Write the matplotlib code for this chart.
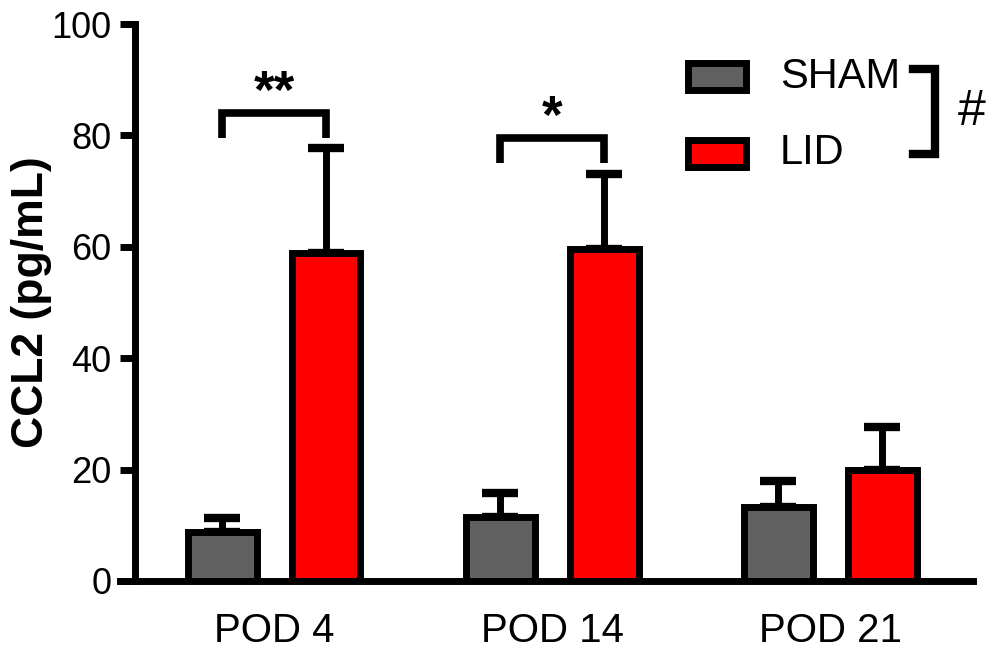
import numpy as np
import matplotlib
matplotlib.use("Agg")
import matplotlib.pyplot as plt
from matplotlib.patches import Rectangle

plt.rcParams['font.family'] = ['Liberation Sans', 'DejaVu Sans']

# data
days = ['POD 4', 'POD 14', 'POD 21']
sham_mean = [8.8, 11.5, 13.3]
sham_err = [2.5, 4.3, 4.7]
lid_mean = [58.9, 59.6, 19.9]
lid_err = [18.8, 13.5, 7.7]
sham_color = '#606060'
lid_color = '#ff0000'

# significance marks: (group index, bracket height, leg bottom, label)
sig_marks = [(0, 84.0, 79.5, '**'), (1, 79.5, 75.0, '*')]

x = np.arange(len(days))
offset = 0.187
width = 0.248

fig = plt.figure(figsize=(10, 6.49), dpi=100)
ax = fig.add_axes([0.120, 1 - 581 / 649, 0.853, (581 - 24) / 649])

ax.bar(x - offset, sham_mean, width, color=sham_color, edgecolor='black', linewidth=5, zorder=3)
ax.bar(x + offset, lid_mean, width, color=lid_color, edgecolor='black', linewidth=5, zorder=3)

for xs, m, e in [(x - offset, sham_mean, sham_err), (x + offset, lid_mean, lid_err)]:
    ax.errorbar(xs, m, yerr=[np.zeros(len(e)), e], fmt='none', ecolor='black',
                elinewidth=5, capsize=13, capthick=6, zorder=2)

ax.set_xlim(-0.554, 2.514)
ax.set_ylim(0, 100)
ax.set_yticks([0, 20, 40, 60, 80, 100])
ax.set_xticks(x)
ax.set_xticklabels(days, fontsize=29)
ax.tick_params(axis='x', length=0, pad=22)
ax.tick_params(axis='y', length=11, width=5, labelsize=26, pad=6)

ax.spines['top'].set_visible(False)
ax.spines['right'].set_visible(False)
ax.spines['left'].set_position(('data', -0.50))
ax.spines['left'].set_linewidth(5)
ax.spines['bottom'].set_linewidth(5)
ax.spines['left'].set_capstyle('projecting')

ax.set_ylabel('CCL2 (pg/mL)', fontsize=32, fontweight='bold')
ax.yaxis.set_label_coords(-0.080, 0.5)

# significance brackets
for gi, ytop, ybot, label in sig_marks:
    x1, x2 = gi - offset, gi + offset
    ax.plot([x1, x1, x2, x2], [ybot, ytop, ytop, ybot], color='black', lw=5.5,
            solid_joinstyle='miter', solid_capstyle='butt', clip_on=False, zorder=4)
    ax.text(gi, ytop - 1.0, label, ha='center', va='bottom', fontsize=38, fontweight='bold')

# manual legend with bracket
def px2x(px):
    return (px - 274) / 278.0

def py2y(py):
    return (581 - py) / 5.57

for top_px, lab, col in [(63, 'SHAM', sham_color), (140, 'LID', lid_color)]:
    ax.add_patch(Rectangle((px2x(688), py2y(top_px + 27)), px2x(746) - px2x(688), 27 / 5.57,
                           facecolor=col, edgecolor='black', linewidth=5, clip_on=False, zorder=4))
    ax.text(px2x(780), py2y(top_px + 13.5), lab, fontsize=30, ha='left', va='center')

ax.plot([px2x(913), px2x(935), px2x(935), px2x(913)],
        [py2y(69), py2y(69), py2y(154), py2y(154)], color='black', lw=6,
        solid_joinstyle='miter', clip_on=False)
ax.text(px2x(972), py2y(112), '#', fontsize=36, ha='center', va='center')

fig.savefig('out.png', dpi=100)
